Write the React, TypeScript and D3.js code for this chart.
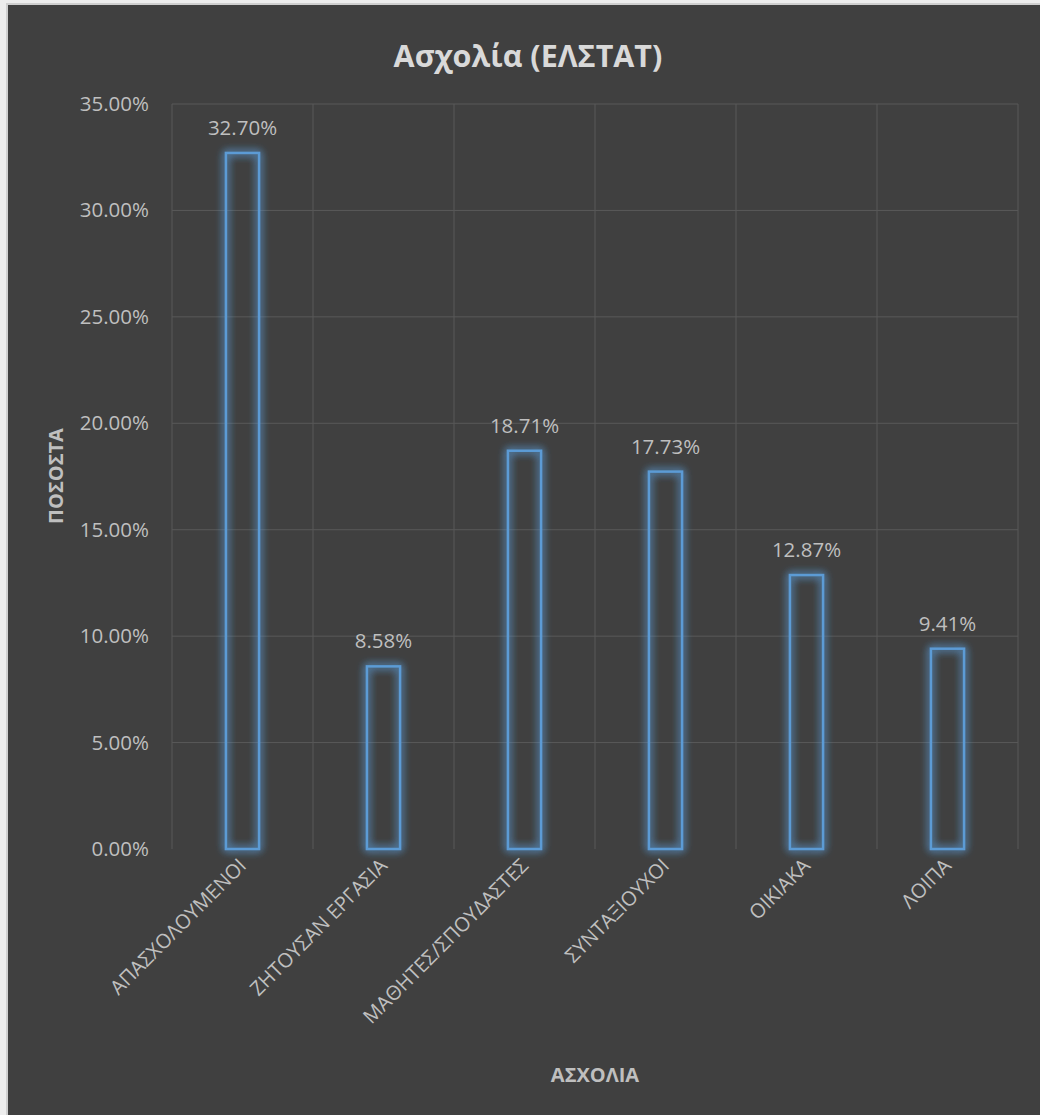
import React from "react";
import * as d3 from "d3";

const categories = ["ΑΠΑΣΧΟΛΟΥΜΕΝΟΙ", "ΖΗΤΟΥΣΑΝ ΕΡΓΑΣΙΑ", "ΜΑΘΗΤΕΣ/ΣΠΟΥΔΑΣΤΕΣ", "ΣΥΝΤΑΞΙΟΥΧΟΙ", "ΟΙΚΙΑΚΑ", "ΛΟΙΠΑ"];
const values = [0.327, 0.0858, 0.1871, 0.1773, 0.1287, 0.0941];
const yTicks = [0, 0.05, 0.1, 0.15, 0.2, 0.25, 0.3, 0.35];
const chartTitle = "Ασχολία (ΕΛΣΤΑΤ)";
const yTitle = "ΠΟΣΟΣΤΑ";
const xTitle = "ΑΣΧΟΛΙΑ";

const W = 1040;
const H = 1115;
const font = "'Open Sans', 'Noto Sans', sans-serif";

export default function App() {
  const plot = { left: 172, right: 1018, top: 104, bottom: 849 };
  const x = d3.scaleBand<string>().domain(categories).range([plot.left, plot.right]).padding(0);
  const y = d3.scaleLinear().domain([0, 0.35]).range([plot.bottom, plot.top]);
  const bw = x.bandwidth() * 0.235;
  const fmt = (v: number) => (v * 100).toFixed(2) + "%";
  const bounds = categories.map((c) => x(c)!).concat([plot.right]);

  return (
    <svg width={W} height={H} style={{ position: "absolute", left: 0, top: 0, display: "block" }}>
      <defs>
        <filter id="glow" x="-60%" y="-20%" width="220%" height="140%">
          <feGaussianBlur in="SourceAlpha" stdDeviation="4.5" result="b" />
          <feFlood floodColor="#5b9bd5" floodOpacity="1" />
          <feComposite in2="b" operator="in" result="g" />
          <feMerge>
            <feMergeNode in="g" />
            <feMergeNode in="g" />
            <feMergeNode in="SourceGraphic" />
          </feMerge>
        </filter>
      </defs>
      <rect x={0} y={0} width={W} height={H} fill="#ededed" />
      <rect x={6} y={3} width={W} height={H} fill="#cfcfcf" />
      <rect x={8} y={5} width={W - 8} height={H - 5} fill="#404040" />
      {yTicks.filter((t) => t > 0).map((t) => (
        <line key={"h" + t} x1={plot.left} x2={plot.right} y1={y(t)} y2={y(t)} stroke="#595959" strokeWidth={1} />
      ))}
      {bounds.map((b, i) => (
        <line key={"v" + i} x1={b} x2={b} y1={plot.top} y2={plot.bottom} stroke="#595959" strokeWidth={1} />
      ))}
      {yTicks.map((t) => (
        <text key={"t" + t} x={149} y={y(t) + 7} textAnchor="end" fontFamily={font} fontSize={20.5} fill="#bfbfbf">
          {fmt(t)}
        </text>
      ))}
      {categories.map((c, i) => {
        const cx = x(c)! + x.bandwidth() / 2;
        return (
          <g key={c}>
            <rect
              x={cx - bw / 2}
              y={y(values[i])}
              width={bw}
              height={y(0) - y(values[i])}
              fill="none"
              stroke="#5b9bd5"
              strokeWidth={2.5}
              filter="url(#glow)"
            />
            <text x={cx} y={y(values[i]) - 18} textAnchor="middle" fontFamily={font} fontSize={20.5} fill="#bfbfbf">
              {fmt(values[i])}
            </text>
            <text
              transform={`translate(${cx + 5},${867}) rotate(-45)`}
              textAnchor="end"
              fontFamily={font}
              fontSize={20}
              fill="#bfbfbf"
            >
              {c}
            </text>
          </g>
        );
      })}
      <text x={528} y={67} textAnchor="middle" fontFamily={font} fontSize={30.5} fontWeight="bold" fill="#d9d9d9">
        {chartTitle}
      </text>
      <text transform={`translate(63,476) rotate(-90)`} textAnchor="middle" fontFamily={font} fontSize={20} fontWeight="bold" fill="#bfbfbf">
        {yTitle}
      </text>
      <text x={595} y={1082} textAnchor="middle" fontFamily={font} fontSize={20} fontWeight="bold" fill="#bfbfbf">
        {xTitle}
      </text>
    </svg>
  );
}
